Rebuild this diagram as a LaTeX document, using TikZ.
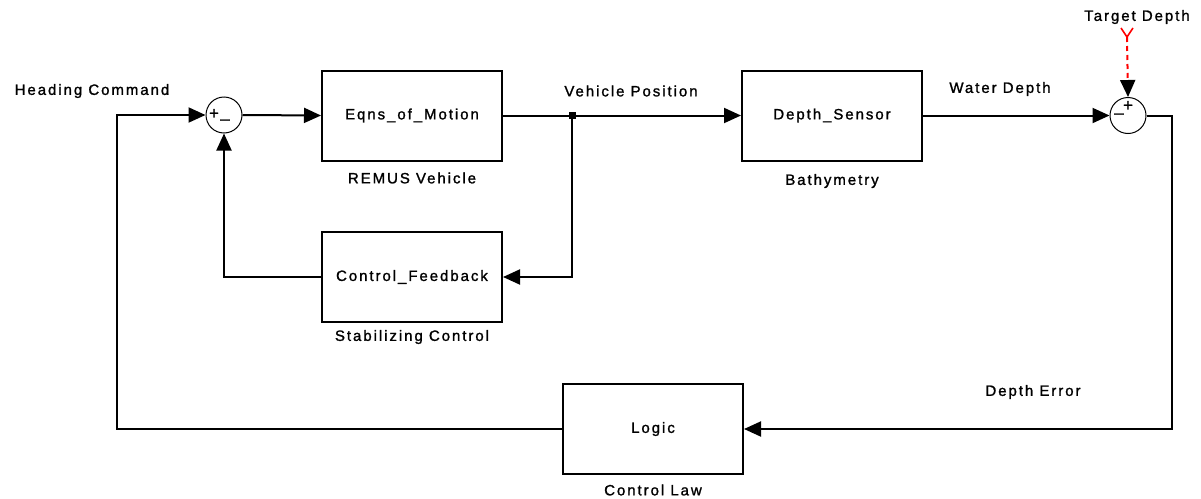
\documentclass[tikz,border=0pt]{standalone}
\usepackage{fontspec}
\setmainfont{Liberation Sans}[LetterSpace=13,FakeBold=1.3]
\usetikzlibrary{arrows.meta,positioning}

\begin{document}
\begin{tikzpicture}[x=1pt,y=-1pt,
    every node/.style={font=\fontsize{15}{18}\selectfont,inner sep=2pt},
    block/.style={draw,line width=2pt,minimum width=180pt,minimum height=90pt,inner sep=0pt},
    sumnode/.style={draw,circle,line width=1pt,minimum size=36pt,inner sep=0pt},
    sgn/.style={font=\fontsize{17}{17}\selectfont,inner sep=0pt},
    sig/.style={line width=2pt,-{Triangle[length=17pt,width=15pt]}},
    wire/.style={line width=2pt}]
    \useasboundingbox (0,0) rectangle (1201,498);

    \node[sumnode] (sumA) at (224,115) {};
    \node[sgn] (sumAp) at (214,114) {+};
    \node[sgn] (sumAm) at (225,122) {--};
    \node[block] (eqns) at (412,115.5) {Eqns\_of\_Motion};
    \node[block] (sensor) at (832,115.5) {Depth\_Sensor};
    \node[block] (feedback) at (412,277) {Control\_Feedback};
    \node[block] (logic) at (653,429) {Logic};
    \node[sumnode] (sumB) at (1128,115.5) {};
    \node[sgn] (sumBm) at (1119,116) {--};
    \node[sgn] (sumBp) at (1128,106) {+};

    \node (lblRemus) at (412,178) {REMUS Vehicle};
    \node (lblBathy) at (832,181) {Bathymetry};
    \node (lblStab) at (412,337) {Stabilizing Control};
    \node (lblLaw) at (653,490) {Control Law};
    \node (lblHead) at (92,91) {Heading Command};
    \node (lblPos) at (631,91) {Vehicle Position};
    \node (lblWater) at (1000,89) {Water Depth};
    \node (lblError) at (1033,392) {Depth Error};
    \node (lblTarget) at (1137,17) {Target Depth};

    \coordinate (jct) at (572,115.5);
    \coordinate (headIn) at (117,115);
    \coordinate (errOut) at (1172,115.5);
    \coordinate (tgt) at (1127,37);

    \draw[sig] (logic.west) -| (headIn) -- (sumA.west);
    \draw[sig] (sumA.east) -- (eqns.west);
    \draw[sig] (eqns.east) -- (sensor.west);
    \fill (jct) +(-3.5,-3.5) rectangle +(3.5,3.5);
    \draw[sig] (jct) |- (feedback.east);
    \draw[sig] (feedback.west) -| (sumA.south);
    \draw[sig] (sensor.east) -- (sumB.west);
    \draw[sig] (sumB.east) -- (errOut) |- (logic.east);

    \draw[red,line width=1.6pt] (1121,28) -- (tgt) -- (1133,28);
    \draw[red,line width=2pt,dash pattern=on 5pt off 4pt,-{Triangle[length=17pt,width=15pt,color=black]}] (tgt) -- (sumB.north);
\end{tikzpicture}
\end{document}
